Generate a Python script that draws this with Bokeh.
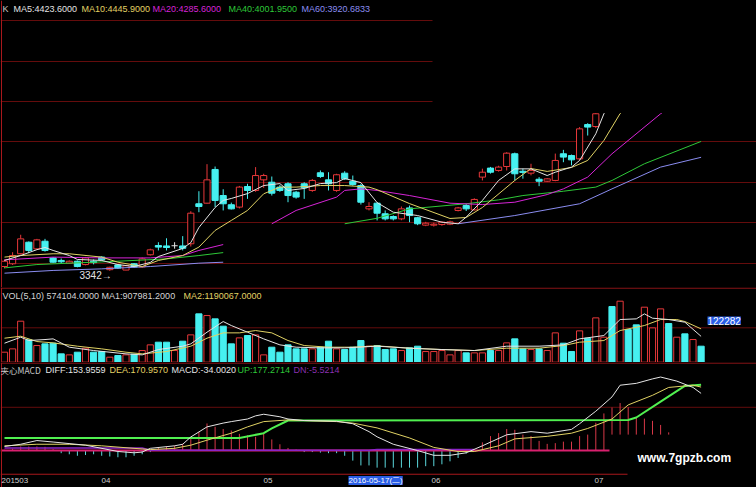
import numpy as np
from bokeh.plotting import figure
from bokeh.layouts import column
from bokeh.models import Range1d, Label, Span, GlobalInlineStyleSheet
from bokeh.embed import file_html
from bokeh.resources import INLINE

# ---------------- data ----------------
opens = [3364,3378,3429,3488,3454,3493,3408,3395,3381,3391,3374,3391,3412,3348,3372,3346,3378,3362,3424,3471,
         3469,3470,3469,3480,3684,3687,3859,3726,3679,3667,3772,3752,3806,3794,3769,3786,3743,3786,3752,3842,
         3806,3752,3840,3799,3777,3658,3687,3633,3619,3607,3663,3613,3575,3575,3578,3580,3650,3675,3653,3820,
         3866,3854,3874,3939,3850,3840,3809,3799,3803,3939,3930,3913,4088,4078]
highs = [3400,3437,3526,3492,3505,3505,3412,3405,3395,3395,3413,3400,3416,3363,3375,3372,3382,3410,3455,3488,
         3508,3488,3519,3646,3748,3886,3874,3758,3690,3775,3786,3871,3837,3823,3780,3794,3750,3794,3810,3854,
         3845,3837,3850,3828,3786,3692,3692,3650,3625,3670,3675,3618,3592,3588,3595,3598,3668,3684,3712,3863,
         3872,3878,3947,3945,3863,3888,3820,3815,3940,3959,3935,4075,4095,4190]
lows = [3355,3372,3425,3432,3450,3440,3383,3380,3378,3360,3370,3375,3395,3342,3352,3345,3358,3358,3420,3446,
        3446,3455,3446,3466,3641,3685,3667,3650,3655,3660,3709,3745,3765,3726,3745,3692,3710,3709,3745,3816,
        3752,3745,3805,3776,3680,3650,3599,3599,3599,3600,3590,3575,3570,3568,3572,3575,3645,3647,3650,3803,
        3838,3848,3854,3803,3812,3829,3774,3795,3799,3896,3880,3905,4032,4070]
closes = [3391,3420,3505,3446,3500,3446,3386,3388,3391,3364,3408,3384,3398,3360,3356,3368,3362,3403,3449,3463,
          3461,3470,3457,3636,3670,3806,3701,3684,3658,3769,3752,3828,3828,3738,3752,3726,3718,3766,3803,3823,
          3786,3832,3811,3782,3692,3670,3636,3607,3607,3658,3624,3582,3585,3580,3590,3592,3663,3658,3706,3845,
          3845,3871,3942,3837,3844,3854,3799,3811,3905,3922,3908,4066,4075,4143]

ma5_i = [0,2,4,5,6,8,9,12,14,16,18,19,22,23,24,26,27,28,30,32,34,35,37,39,41,42,44,46,48,51,54,56,57,59,61,63,65,67,68,70,71,73,74,76,80,86]
ma5 = [3395,3420,3450,3461,3446,3420,3400,3395,3374,3364,3385,3415,3456,3486,3563,3665,3701,3711,3736,3777,3787,3752,3762,3787,3792,3813,3792,3690,3641,3624,3590,3582,3616,3701,3803,3862,3862,3828,3845,3871,3905,4041,4143,4250,4380,4424]
ma10_i = [0,2,6,8,12,14,17,19,22,24,26,28,30,32,34,36,39,42,45,46,50,55,57,59,63,65,67,70,72,74,76,80,86]
ma10 = [3412,3420,3429,3429,3412,3386,3364,3395,3420,3463,3548,3599,3650,3735,3769,3769,3777,3777,3769,3756,3685,3609,3614,3665,3803,3864,3849,3869,3905,4007,4144,4300,4446]
ma20_i = [0,6,12,18,22,24,27,None,33,36,41,42,44,46,50,55,59,63,67,69,72,75,81,86]
ma20 = [3398,3412,3408,3408,3420,3446,3476,None,3582,3650,3718,3752,3760,3752,3726,3687,3680,3692,3731,3760,3820,3939,4143,4286]
ma40_i = [0,4,8,14,20,24,27,None,42,46,50,57,61,64,69,73,75,79,86]
ma40 = [3357,3374,3381,3391,3403,3420,3435,None,3582,3610,3658,3684,3704,3726,3748,3769,3803,3888,4002]
ma60_i = [0,6,12,18,24,27,None,56,63,71,75,81,86]
ma60 = [3330,3344,3352,3364,3381,3386,None,3582,3624,3684,3760,3871,3921]

vol_k = [360,480,1476,804,600,660,684,300,264,360,504,360,384,180,240,264,288,420,624,720,
         720,420,756,984,1740,1680,1560,1296,660,876,960,984,264,540,360,624,480,480,480,540,
         756,480,456,540,780,576,600,456,480,420,516,576,384,384,420,264,420,336,336,336,
         420,420,696,840,480,456,480,420,1056,684,384,1128,864,1596,900,2004,2196,1176,1344,1980,
         1236,1920,1392,900,1020,816,576]
vol_up = [1,1,1,0,1,0,0,0,1,0, 1,0,0,1,0,1,0,1,1,0, 0,1,0,1,0,1,0,0,0,1, 0,1,1,0,0,0,0,0,1,0,
          0,1,0,0,0,1,0,0,0,1, 0,0,1,1,1,1,1,0,1,1, 0,1,1,0,0,1,0,1,1,0, 0,1,0,1,1,0,1,0,0,1,
          1,1,0,1,0,1,0]
vma5_i = [0,2,3,5,6,8,11,15,17,19,22,23,25,27,28,30,32,34,36,39,42,46,50,54,58,62,66,69,71,74,76,78,79,80,82,84,86]
vma5 = [684,900,780,816,840,540,420,300,264,456,576,660,1080,1464,1320,1080,840,624,540,516,516,576,504,456,420,576,576,624,840,960,1536,1560,1740,1584,1536,1440,930]
vma10_i = [0,2,4,6,9,12,15,17,20,23,25,27,29,31,33,35,37,40,43,46,50,54,58,62,66,69,71,74,76,79,81,83,84,86]
vma10 = [864,936,744,696,576,480,360,300,384,576,864,1056,1056,1140,1056,780,600,540,540,588,504,456,420,504,504,600,720,780,1140,1320,1536,1536,1464,1200]

diff_i = [0,2,4,6,10,14,16,17,18,21,22,23,25,27,28,30,31,32,34,35,37,41,43,45,46,48,51,53,55,57,59,62,65,67,70,71,73,75,76,78,80,81,83,85,86]
diff = [11,17,27,23,14.5,-2.5,-6,-4,6,12.8,17,36.6,63.8,74,78,85,93.5,97.8,91,85,80.8,79,72.3,51,37,17,0,-12.8,-12.8,-6,12.8,42.5,51,46.8,57,72.3,106,144.5,176,181,193,198,187,170,154]
dea_i = [0,4,8,12,17,18,21,23,25,28,30,32,35,37,41,43,46,50,53,56,58,61,63,67,70,72,75,77,80,82,85,86]
dea = [12.8,17,17,12.8,4.3,2.6,6,14.5,28,46.8,63.8,78,82.5,80.8,78,74,61,34,8.5,-2.6,-2.6,12.8,31.5,38.3,46.8,59.5,85,123,148.8,170,176,171]
up_i = [0,29,32,33,35,77,78,81,84,86]
up = [34,34,46.7,59.5,81,82.4,89,131.8,174,177]
dn_i = [0,17,18,45,46,58]
dn = [7,7,1,1,3,3]
hist = [2,5,11,11,11,10,4,-7,-10,-14, -12,-10,-14,-16,-18,-18,-14,-10,-4,7,
        10,13,18,33,50,73,64,58,54,45, 41,37,45,30,17,7,3,-4,-4,-5.5,
        -7,-7,-14,-27,-40,-40,-46,-46,-46,-46, -46,-46,-42,-42,-37,-29,-20,-8,1,22,
        39,47,58,56,43,39,26,18,20,24, 24,39,43,75,100,116,128,117,90,86,
        80,69,49]
hist_base = [0]*75 + [43]*8

month_labels = ["201503", "04", "05", "06", "07"]
month_px = [0, 100, 262, 430, 593]

# ---------------- style ----------------
BG = "#000000"
RED = "#e8383a"
CYAN = "#46f0f0"
GRID = "#640c0c"
SEP = "#a8181c"
WHITE = "#e4e4e4"
YELLOW = "#e0d264"
MAGENTA = "#d624d6"
GREEN = "#2ec838"
LAV = "#8a8cf0"
FONT = "Liberation Sans"
CJK = "Noto Sans CJK SC"

W = 756
PX = 8.1
X0 = 4
def ix(px):
    return (px - X0) / PX
xr = Range1d(ix(0), ix(W))

def py_main(y):
    return 3920 - (y - 157) * 5.1
def py_vol(y):
    return (361.7 - y) * 36
def py_macd(y):
    return (455 - y) * 2.55

def mk(h, lo, hi):
    p = figure(width=W, height=h, x_range=xr, y_range=Range1d(lo, hi),
               output_backend="svg", toolbar_location=None, min_border=0,
               x_axis_location=None, y_axis_location=None,
               background_fill_color=BG, border_fill_color=BG, outline_line_color=None)
    p.grid.visible = False
    return p

def arr(L):
    return np.array(L, dtype=float)

def lab(p, x, y, text, color, size="9px", font=FONT, style="normal", baseline="middle", **kw):
    p.add_layout(Label(x=x, y=y, text=text, text_color=color, text_font_size=size,
                       text_font=font, text_font_style=style, text_baseline=baseline, **kw))

# ---------------- main (K) panel ----------------
pm = mk(287, py_main(287), py_main(0))
for gy in [20, 61, 101, 141, 182, 222, 263]:
    pm.add_layout(Span(location=py_main(gy), dimension="width", line_color=GRID, line_width=1, level="underlay"))

o, h, l, c = arr(opens), arr(highs), arr(lows), arr(closes)
idx = np.arange(len(o), dtype=float)
isup, isdn, iseq = c > o, c < o, c == o
wcol = [RED if a else (CYAN if b else WHITE) for a, b in zip(isup, isdn)]
pm.segment(idx, l, idx, h, line_color=wcol, line_width=1)
pm.vbar(x=idx[isup], bottom=o[isup], top=c[isup], width=0.76, fill_color=BG, line_color=RED, line_width=1)
pm.vbar(x=idx[isdn], bottom=c[isdn], top=o[isdn], width=0.76, fill_color=CYAN, line_color=CYAN, line_width=1)
pm.segment(idx[iseq] - 0.38, o[iseq], idx[iseq] + 0.38, c[iseq], line_color=WHITE, line_width=1)

pm.line(arr(ma60_i), arr(ma60), line_color=LAV, line_width=1)
pm.line(arr(ma40_i), arr(ma40), line_color=GREEN, line_width=1)
pm.line(arr(ma20_i), arr(ma20), line_color=MAGENTA, line_width=1)
pm.line(arr(ma10_i), arr(ma10), line_color=YELLOW, line_width=1)
pm.line(arr(ma5_i), arr(ma5), line_color=WHITE, line_width=1)

# blanked area of the original screenshot
pm.quad(left=ix(432), right=ix(W + 20), bottom=py_main(112.5), top=py_main(18), fill_color=BG, line_color=None)
pm.add_layout(Span(location=ix(1), dimension="height", line_color=SEP, line_width=1))

hy = py_main(8)
lab(pm, ix(2), hy, "K", "#c8c8c8")
lab(pm, ix(13), hy, "MA5:4423.6000", WHITE)
lab(pm, ix(81), hy, "MA10:4445.9000", YELLOW)
lab(pm, ix(152), hy, "MA20:4285.6000", MAGENTA)
lab(pm, ix(228), hy, "MA40:4001.9500", GREEN)
lab(pm, ix(301), hy, "MA60:3920.6833", LAV)
lab(pm, ix(79), py_main(275), "3342\u2192", WHITE, size="10px")

# ---------------- volume panel ----------------
pv = mk(75, py_vol(362), py_vol(287))
pv.add_layout(Span(location=py_vol(327.3), dimension="width", line_color=GRID, line_width=1, level="underlay"))
pv.add_layout(Span(location=py_vol(287.6), dimension="width", line_color=SEP, line_width=1))
pv.add_layout(Span(location=ix(1), dimension="height", line_color=SEP, line_width=1))
v = arr(vol_k)
vu = np.array(vol_up) == 1
vi = np.arange(len(v), dtype=float)
pv.vbar(x=vi[vu], bottom=0, top=v[vu], width=0.76, fill_color=BG, line_color=RED, line_width=1)
pv.vbar(x=vi[~vu], bottom=0, top=v[~vu], width=0.76, fill_color=CYAN, line_color=CYAN, line_width=1)
pv.line(arr(vma10_i), arr(vma10), line_color=YELLOW, line_width=1)
pv.line(arr(vma5_i), arr(vma5), line_color=WHITE, line_width=1)
vy = py_vol(295.5)
lab(pv, ix(2), vy, "VOL(5,10) 574104.0000 MA1:907981.2000", "#d4d4d4")
lab(pv, ix(183), vy, "MA2:1190067.0000", YELLOW)
lab(pv, ix(707), py_vol(320), "122282", "#ffffff", size="10px",
    background_fill_color="#2a5ee6", background_fill_alpha=1.0)

# ---------------- MACD panel ----------------
pc = mk(125, py_macd(494), py_macd(362))
pc.add_layout(Span(location=py_macd(409.3), dimension="width", line_color=GRID, line_width=1, level="underlay"))
pc.add_layout(Span(location=py_macd(362.6), dimension="width", line_color=SEP, line_width=1))
pc.add_layout(Span(location=ix(1), dimension="height", line_color=SEP, line_width=1))
pc.segment(x0=[ix(0)], y0=[py_macd(480)], x1=[ix(627)], y1=[py_macd(480)], line_color=SEP, line_width=1)

hv = arr(hist)
hb = arr(hist_base)
hi_ = np.arange(len(hv), dtype=float)
pos = hv >= 0
pc.segment(hi_[pos], hb[pos], hi_[pos], hv[pos], line_color="#d83848", line_width=1)
pc.segment(hi_[~pos], hb[~pos], hi_[~pos], hv[~pos], line_color="#5ad8dc", line_width=1)
pc.segment(x0=[ix(0)], y0=[0], x1=[ix(609)], y1=[0], line_color="#d8206e", line_width=2)
pc.line(arr(dn_i), arr(dn), line_color="#8a24c8", line_width=1.5)
pc.line(arr(up_i), arr(up), line_color="#50f050", line_width=2)
pc.line(arr(dea_i), arr(dea), line_color=YELLOW, line_width=1)
pc.line(arr(diff_i), arr(diff), line_color=WHITE, line_width=1)

my = py_macd(370)
lab(pc, ix(0), my, "夹心MACD", "#c8c8c8", font=CJK, size="8.5px")
lab(pc, ix(45), my, "DIFF:153.9559", WHITE)
lab(pc, ix(109), my, "DEA:170.9570", YELLOW)
lab(pc, ix(171), my, "MACD:-34.0020", WHITE)
lab(pc, ix(237), my, "UP:177.2714", GREEN)
lab(pc, ix(293), my, "DN:-5.5214", "#8a30b0")
lab(pc, ix(637), py_macd(463), "www.7gpzb.com", "#ffffff", size="12px", style="bold")
ly = py_macd(486.5)
for t, px in zip(month_labels, month_px):
    lab(pc, ix(px + 1), ly, t, "#cfcfcf", size="8px")
lab(pc, ix(348), ly, "2016-05-17(二)", "#ffffff", size="8px",
    background_fill_color="#2a5ee6", background_fill_alpha=1.0)

layout = column(pm, pv, pc, spacing=0,
                stylesheets=[GlobalInlineStyleSheet(css="body{background:#000000;}")])

open("out.html", "w").write(file_html(layout, INLINE))
